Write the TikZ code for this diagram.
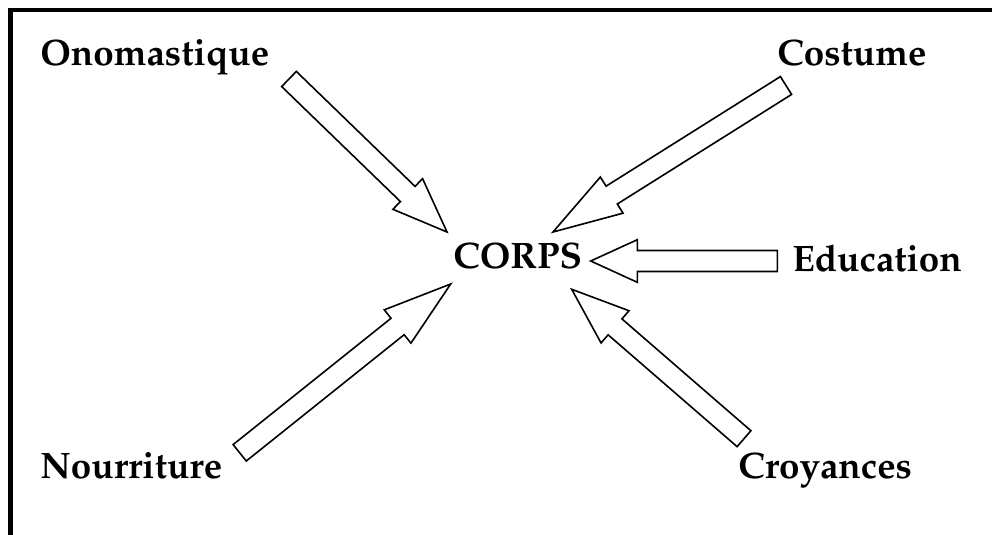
\documentclass[tikz,border=0pt]{standalone}
\usepackage[T1]{fontenc}
\usepackage{mathpazo}
\usetikzlibrary{calc}
\tikzset{domain label/.style={anchor=base west, inner sep=0pt, font=\fontsize{27.6}{32}\selectfont\bfseries}}
\tikzset{bloc arrow/.style={draw=black, fill=white, line width=1.2pt, line join=miter}}
\tikzset{frame line/.style={line width=3.5pt, line join=miter}}
\newcommand{\blocArrow}[3]{%
	\coordinate (m) at ($(#2)!#3!(#1)$);
	\draw[bloc arrow] ($(#1)!7.9pt!90:(#2)$) -- ($(m)!7.9pt!90:(#2)$) -- ($(m)!16pt!90:(#2)$)
		-- (#2) -- ($(m)!16pt!-90:(#2)$) -- ($(m)!7.9pt!-90:(#2)$) -- ($(#1)!7.9pt!-90:(#2)$) -- cycle;}

\begin{document}
\begin{tikzpicture}[x=0.75pt, y=-0.75pt]
	\useasboundingbox (0,0) rectangle (992,535);
	\draw[frame line] (10.5,545) -- (10.5,10) -- (1000,10);
	\node[domain label] at (453,268.3) (corps) {CORPS};
	\node[domain label] at (40,65)     (onom)  {Onomastique};
	\node[domain label] at (777,65)    (cost)  {Costume};
	\node[domain label] at (792,271.7) (educ)  {Education};
	\node[domain label] at (40,478)    (nour)  {Nourriture};
	\node[domain label] at (738,478)   (croy)  {Croyances};
	% tails and tips of the arrows
	\coordinate (onom_t) at (289,79);    \coordinate (onom_h) at (447,232);
	\coordinate (cost_t) at (786,85.5);  \coordinate (cost_h) at (553,232);
	\coordinate (educ_t) at (777.3,261); \coordinate (educ_h) at (590.7,261);
	\coordinate (nour_t) at (239.7,452.8); \coordinate (nour_h) at (450.7,284);
	\coordinate (croy_t) at (744,438.7); \coordinate (croy_h) at (571.7,289.3);
	\blocArrow{onom_t}{onom_h}{41pt}
	\blocArrow{cost_t}{cost_h}{52pt}
	\blocArrow{educ_t}{educ_h}{35pt}
	\blocArrow{nour_t}{nour_h}{51pt}
	\blocArrow{croy_t}{croy_h}{43pt}
\end{tikzpicture}
\end{document}
